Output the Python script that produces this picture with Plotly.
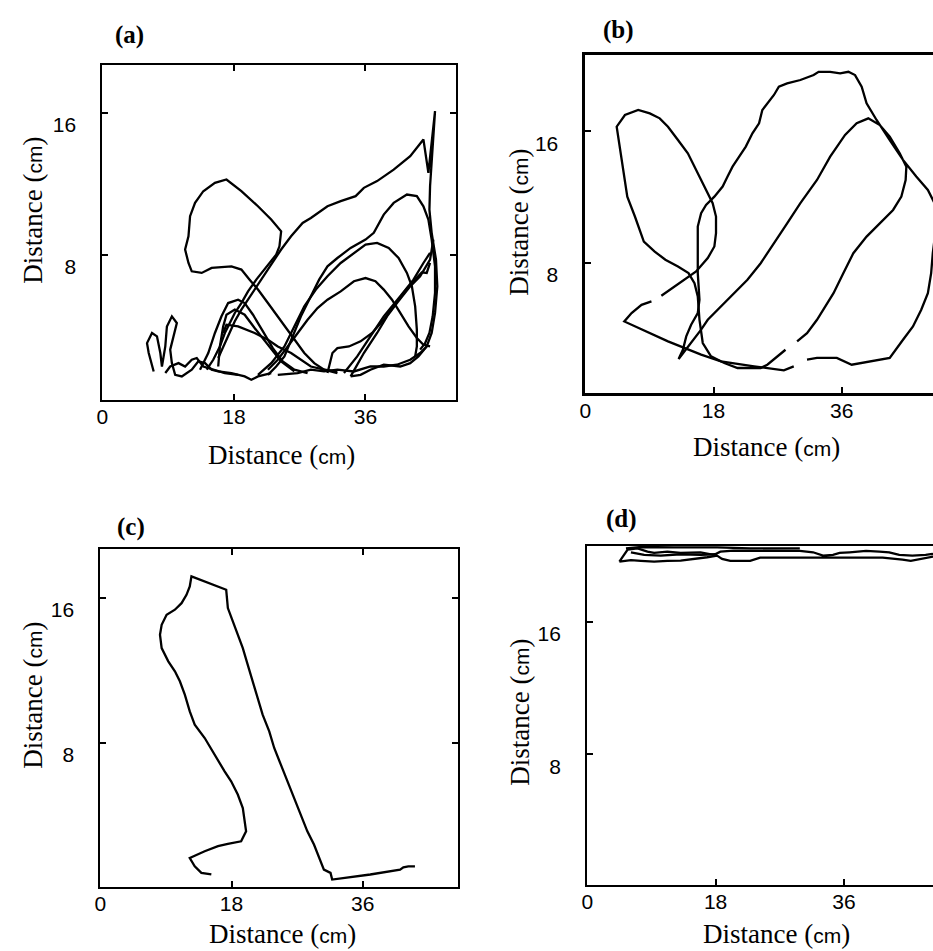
import plotly.graph_objects as go

# ---------------- data (cm) ----------------
x_tick_vals = [0, 18, 36]
x_tick_text = ["0", "18", "36"]
y_tick_vals = [8, 16]
y_tick_text = ["8", "16"]
panel_labels = ["(a)", "(b)", "(c)", "(d)"]
axis_label = "Distance"
unit_label = "cm"

# Panel (a): several overlapping excursions
a_head_x = [14.27, 15.17, 16.08, 16.76, 17.44, 18.12, 19.02, 19.93, 21.06, 22.19, 23.10, 23.78, 24.23, 24.46, 23.10, 21.29, 19.02, 16.98, 15.40, 13.81, 12.68, 12.00, 11.78, 11.32, 11.78, 12.23, 13.59, 14.95, 17.66, 19.02, 20.15, 21.29, 22.65, 24.00, 25.36, 26.72, 27.63, 28.99, 30.34, 32.16]
a_head_y = [1.51, 2.07, 2.82, 3.58, 4.14, 4.71, 5.27, 5.93, 6.59, 7.16, 7.63, 8.00, 8.47, 9.32, 9.98, 10.73, 11.58, 12.24, 12.05, 11.58, 10.92, 10.17, 9.04, 8.29, 7.53, 7.06, 6.97, 7.25, 7.34, 7.16, 6.59, 6.03, 5.27, 4.52, 3.77, 3.01, 2.45, 1.88, 1.51, 1.32]
a_big_x = [15.85, 16.76, 17.44, 18.12, 19.02, 19.93, 20.83, 21.97, 23.10, 24.46, 25.82, 27.40, 28.53, 30.80, 32.61, 34.65, 35.78, 37.59, 39.86, 42.12, 43.93, 44.61, 45.52, 45.20, 44.84, 44.75, 45.06, 45.65, 45.83, 45.52, 45.06, 44.38, 43.25, 42.12, 40.76, 38.50, 36.68, 35.33, 33.97]
a_big_y = [2.17, 3.01, 3.67, 4.24, 4.90, 5.46, 6.03, 6.78, 7.44, 8.29, 9.04, 9.79, 10.07, 10.73, 11.02, 11.30, 11.77, 12.15, 12.80, 13.56, 14.50, 12.62, 16.10, 13.93, 11.86, 10.54, 9.23, 7.72, 6.21, 4.71, 3.58, 2.82, 2.26, 1.88, 1.69, 1.79, 1.51, 1.22, 1.13]
a_arc2_x = [22.65, 23.78, 24.91, 25.82, 27.17, 28.53, 29.66, 30.80, 32.16, 33.97, 36.01, 37.14, 38.50, 39.86, 41.67, 43.03, 43.93, 44.61, 45.06, 45.52, 45.52, 45.20, 44.75, 44.16, 43.48]
a_arc2_y = [1.22, 1.69, 2.26, 3.20, 4.52, 5.65, 6.59, 7.34, 7.81, 8.38, 8.85, 9.23, 10.26, 10.92, 11.39, 11.30, 10.73, 9.98, 8.85, 7.34, 5.84, 4.52, 3.58, 3.01, 2.64]
a_arc3_x = [21.29, 23.10, 24.91, 26.27, 27.63, 29.21, 30.80, 32.61, 34.42, 36.01, 37.59, 39.18, 40.53, 41.67, 42.35, 42.80, 43.03, 43.03, 42.80]
a_arc3_y = [1.22, 1.88, 2.82, 3.95, 5.08, 6.03, 6.78, 7.53, 8.10, 8.57, 8.66, 8.38, 7.81, 6.97, 6.21, 5.08, 3.77, 2.82, 2.26]
a_arc4_x = [22.65, 24.00, 25.36, 26.72, 28.08, 29.44, 30.80, 32.61, 34.42, 36.01, 37.36, 38.50, 39.63, 40.76, 41.89, 43.03, 43.93, 44.84]
a_arc4_y = [1.51, 2.07, 2.82, 3.58, 4.33, 4.99, 5.46, 5.93, 6.50, 6.68, 6.50, 6.03, 5.46, 4.71, 3.95, 3.30, 2.92, 2.82]
a_bump5_x = [30.80, 31.48, 32.16, 33.74, 35.33, 36.91, 38.50, 39.86, 41.21, 42.57, 43.70, 44.38, 44.84]
a_bump5_y = [1.32, 2.45, 2.73, 2.82, 3.11, 3.58, 4.33, 5.08, 5.84, 6.50, 7.00, 6.97, 7.53]
a_diag6_x = [33.97, 35.78, 37.59, 38.95, 40.31, 42.12, 43.48, 44.84, 45.29]
a_diag6_y = [1.13, 2.45, 3.58, 4.52, 5.27, 6.21, 6.78, 7.72, 8.85]
a_diag7_x = [33.06, 34.87, 36.68, 38.50, 40.76, 42.57, 43.93, 44.84]
a_diag7_y = [1.32, 2.26, 3.39, 4.52, 5.65, 6.59, 7.53, 8.10]
a_bump1_x = [13.36, 14.49, 15.40, 16.30, 17.21, 18.57, 19.47, 20.61, 21.97, 23.32, 24.68, 26.27, 28.08]
a_bump1_y = [1.51, 2.45, 3.58, 4.52, 5.27, 5.46, 5.27, 4.61, 3.67, 2.73, 1.98, 1.51, 1.32]
a_bump2_x = [15.85, 16.08, 16.53, 16.98, 18.12, 19.47, 20.83, 22.65, 24.46, 26.27]
a_bump2_y = [1.69, 2.82, 3.95, 4.61, 4.90, 4.61, 3.86, 2.92, 1.98, 1.41]
a_line3_x = [16.53, 16.98, 18.57, 20.83, 22.65, 24.00, 25.82, 27.17, 28.53, 30.34, 32.16]
a_line3_y = [3.58, 4.05, 3.95, 3.58, 3.20, 2.82, 2.45, 2.07, 1.69, 1.51, 1.41]
a_left_x = [7.02, 6.34, 6.11, 6.79, 7.47, 7.93, 8.15, 8.61, 8.83, 9.51, 10.19, 9.74, 9.28, 9.51, 9.96, 10.87, 12.23, 13.13, 14.04, 14.95, 15.85, 17.66, 19.47, 20.38, 21.29, 23.10]
a_left_y = [1.41, 2.45, 3.01, 3.58, 3.39, 2.45, 1.69, 2.82, 3.95, 4.52, 4.14, 3.39, 2.64, 1.88, 1.22, 1.13, 1.51, 1.98, 1.88, 1.51, 1.41, 1.32, 1.13, 0.94, 1.13, 1.32]
a_left2_x = [8.61, 9.28, 10.42, 11.32, 12.23, 12.91, 13.81, 14.49, 16.76, 18.57]
a_left2_y = [1.32, 1.69, 1.88, 1.69, 2.07, 2.17, 1.69, 1.60, 1.32, 1.22]
a_base_x = [24.00, 26.72, 28.53, 30.34, 32.16, 34.42, 36.68, 38.50, 40.31, 42.12, 43.48, 44.38]
a_base_y = [1.22, 1.32, 1.51, 1.41, 1.51, 1.41, 1.69, 1.69, 1.79, 2.07, 2.45, 2.82]

# Panel (b): one long path with small gaps
b_x = [49.24, 48.77, 48.54, 48.08, 47.15, 45.99, 44.59, 42.73, 37.39, 35.30, 32.52, 31.12, None,
       29.26, 27.87, 23.69, 19.04, 16.26, 11.61, 5.48, 6.50, 7.90, 9.29, None,
       10.68, 12.54, 14.17, 15.56, 17.19, 18.12, 18.35, 18.35, 17.88, 16.95, 15.79, 14.40, 13.01, 11.61, 10.45, 9.06, 7.43, 5.57, 4.41, 5.11,
       5.90, 6.97, 8.22, 9.75, 11.24, 13.01, 14.49, 15.33, 15.79, 16.03, 16.49, 17.65, 19.51, 21.37, 24.62, 25.55, 26.94, 28.10, None,
       29.73, 31.12, 32.52, 33.91, 34.84, 36.23, 37.62, 39.48, 41.34, 43.20, 44.36, 44.96, 45.06, 44.13, 42.73, 41.34, 39.72, 38.09, 36.46, 34.37,
       32.52, 30.19, 28.33, 26.48, 24.62, 22.76, 20.90, 19.04, 17.19, 16.26, 15.33, 14.17, 13.10, 13.70, 14.17, 14.86, 15.79, 16.03, 15.79, 15.79,
       15.79, 16.26, 16.95, 18.12, 19.28, 19.97, 20.67, 21.60, 22.53, 23.46, 24.39, 24.85, 25.55, 26.48, 27.17, 28.33, 30.19, 32.05, 32.75, 34.37,
       35.77, 36.93, 37.86, 38.79, 39.48, 40.88, 42.73, 44.59, 46.45, 48.08, 49.24]
b_y = [10.22, 8.60, 7.39, 6.17, 5.16, 4.15, 3.34, 2.23, 1.82, 2.23, 2.23, 2.13, None,
       1.72, 1.48, 1.72, 2.02, 2.43, 3.24, 4.45, 4.96, 5.46, 5.67, None,
       6.01, 6.58, 7.08, 7.49, 8.30, 9.01, 9.82, 10.83, 11.64, 12.45, 13.46, 14.67, 15.48, 16.29, 16.80, 17.10, 17.31, 17.00, 16.29, 14.27,
       12.04, 10.83, 9.31, 8.70, 8.20, 7.79, 7.39, 6.78, 5.97, 4.55, 3.14, 2.33, 1.92, 1.62, 1.62, 1.82, 2.33, 2.73, None,
       3.24, 3.74, 4.55, 5.57, 6.17, 7.39, 8.60, 9.61, 10.42, 11.23, 12.04, 13.05, 13.86, 14.67, 15.69, 16.39, 16.80, 16.50, 15.79, 14.47,
       13.05, 11.64, 10.42, 9.21, 7.99, 6.98, 6.17, 5.36, 4.55, 3.95, 3.44, 2.83, 2.17, 2.73, 3.54, 4.25, 4.96, 5.77, 7.39, 8.80,
       10.22, 11.03, 11.54, 12.04, 12.65, 13.26, 13.86, 14.47, 15.08, 15.89, 16.50, 17.31, 17.71, 18.22, 18.72, 18.92, 19.13, 19.43, 19.63, 19.63,
       19.53, 19.63, 19.43, 18.72, 17.71, 16.70, 15.48, 14.27, 13.26, 12.45, 11.44]

# Panel (c)
c_x = [15.23, 13.86, 12.95, 12.27, 14.32, 16.14, 17.50, 18.41, 19.32, 20.00, 19.77, 19.55, 18.86, 17.95, 17.05, 15.68, 14.32, 12.95, 12.27, 11.59,
       10.91, 10.23, 9.32, 8.41, 8.18, 8.41, 9.09, 10.23, 11.14, 11.82, 12.27, 12.50, 17.27, 17.50, 18.18, 18.86, 19.55, 20.23, 20.91, 21.59,
       22.27, 23.18, 23.86, 24.77, 25.68, 26.59, 27.50, 28.41, 29.32, 30.00, 30.68, 31.59, 31.82, 37.05, 41.14, 41.59, 42.27, 43.18]
c_y = [0.74, 0.83, 1.19, 1.65, 2.02, 2.30, 2.43, 2.48, 2.57, 3.12, 3.68, 4.41, 5.15, 5.88, 6.43, 7.35, 8.27, 9.01, 9.74, 10.66,
       11.40, 11.95, 12.50, 13.23, 13.97, 14.52, 15.07, 15.35, 15.71, 16.17, 16.63, 17.19, 16.45, 15.44, 14.70, 13.97, 13.23, 12.31, 11.40, 10.48,
       9.56, 8.64, 7.72, 6.80, 5.88, 4.96, 4.04, 3.12, 2.39, 1.65, 1.01, 0.83, 0.46, 0.74, 1.01, 1.14, 1.19, 1.19]

# Panel (d): path hugging the top wall
d_outer_x = [4.51, 5.20, 5.67, 7.06, 8.45, 9.38, 11.24, 13.10, 15.89, 17.74, 18.67, 20.53, 25.18, 29.82, 31.68, 33.07, 34.47, 35.40, 36.79, 39.11,
             40.97, 42.36, 43.76, 45.61, 47.47, 48.40, 49.33, 48.40, 46.54, 45.38, 44.22, 41.43, 36.79, 32.14, 27.50, 24.25, 22.85, 20.07, 18.91, 18.21,
             16.82, 14.96, 13.10, 11.24, 9.38, 7.52, 6.13, 4.51]
d_outer_y = [19.66, 20.12, 20.38, 20.46, 20.26, 20.18, 20.26, 20.18, 20.22, 20.06, 20.26, 20.32, 20.32, 20.30, 20.22, 20.02, 20.06, 20.18, 20.22, 20.30,
             20.26, 20.22, 20.06, 20.02, 20.06, 20.12, 20.02, 19.94, 19.82, 19.70, 19.78, 19.90, 19.90, 19.90, 19.90, 19.90, 19.70, 19.70, 19.82, 20.02,
             19.92, 19.82, 19.72, 19.70, 19.66, 19.70, 19.74, 19.66]
d_mid_x = [6.13, 7.99, 10.31, 13.10, 15.89, 17.98]
d_mid_y = [20.22, 20.06, 20.02, 20.10, 20.06, 20.10]
d_top_x = [5.43, 7.52, 12.17, 15.89, 18.21, 22.85, 29.82]
d_top_y = [20.46, 20.54, 20.52, 20.54, 20.52, 20.46, 20.46]

# ---------------- figure ----------------
W, H = 933, 951
fig = go.Figure()

panel_series = {
    1: [(a_head_x, a_head_y), (a_big_x, a_big_y), (a_arc2_x, a_arc2_y), (a_arc3_x, a_arc3_y),
        (a_arc4_x, a_arc4_y), (a_bump5_x, a_bump5_y), (a_diag6_x, a_diag6_y), (a_diag7_x, a_diag7_y),
        (a_bump1_x, a_bump1_y), (a_bump2_x, a_bump2_y), (a_line3_x, a_line3_y), (a_left_x, a_left_y),
        (a_left2_x, a_left2_y), (a_base_x, a_base_y)],
    2: [(b_x, b_y)],
    3: [(c_x, c_y)],
    4: [(d_outer_x, d_outer_y), (d_mid_x, d_mid_y), (d_top_x, d_top_y)],
}
for k, series in panel_series.items():
    sfx = "" if k == 1 else str(k)
    for xs, ys in series:
        fig.add_trace(go.Scatter(x=xs, y=ys, mode="lines", xaxis="x" + sfx, yaxis="y" + sfx,
                                 line=dict(color="black", width=2.3), connectgaps=False,
                                 showlegend=False, hoverinfo="skip"))

# plot boxes in pixels: left, right, top, bottom
boxes = {
    1: (97, 453, 65, 400),
    2: (583, 933, 55, 393),
    3: (95, 455, 549, 887),
    4: (585, 933, 546, 885),
}
xranges = {1: [0, 48.4], 2: [0, 48.8], 3: [0, 49.1], 4: [0, 48.5]}
yranges = {1: [-0.2, 18.7], 2: [0.1, 20.65], 3: [0.05, 18.7], 4: [0.1, 20.6]}
lw = {1: 2, 2: 2.6, 3: 2, 4: 2.4}
tick_font = dict(family="Liberation Sans, Arial, sans-serif", size=21, color="black")

layout = {}
for k, (l, r, t, b) in boxes.items():
    sfx = "" if k == 1 else str(k)
    full = k in (2, 4)
    layout["xaxis" + sfx] = dict(
        domain=[l / W, r / W], range=xranges[k], anchor="y" + sfx,
        tickmode="array", tickvals=x_tick_vals, ticktext=x_tick_text,
        ticks="inside", ticklen=6, tickwidth=1.5, tickcolor="black",
        showline=True, linecolor="black", linewidth=lw[k],
        mirror=True if full else "ticks", showgrid=False, zeroline=False,
        tickfont=tick_font, ticklabelstandoff=-3, fixedrange=True)
    layout["yaxis" + sfx] = dict(
        domain=[1 - b / H, 1 - t / H], range=yranges[k], anchor="x" + sfx,
        tickmode="array", tickvals=y_tick_vals, ticktext=y_tick_text,
        ticks="inside", ticklen=6, tickwidth=1.5, tickcolor="black",
        showline=True, linecolor="black", linewidth=lw[k],
        mirror=False if full else "ticks", showgrid=False, zeroline=False,
        tickfont=tick_font, ticklabelstandoff=20, ticklabelshift=12, fixedrange=True)

title_text = (axis_label + " (<span style='font-family:Liberation Sans, Arial, sans-serif;font-size:21px'>"
              + unit_label + "</span>)")
serif = "Liberation Serif, Times New Roman, serif"

annotations = []
def ann(text, px, py, size, angle=0):
    annotations.append(dict(text=text, x=px / W, y=1 - py / H, xref="paper", yref="paper",
                            xanchor="center", yanchor="middle", showarrow=False, textangle=angle,
                            font=dict(family=serif, size=size, color="black")))

label_pos = [(124, 35), (616, 30), (126, 527), (619, 519)]
for lab, (px, py) in zip(panel_labels, label_pos):
    ann("<b>" + lab + "</b>", px, py, 25)

xtitle_pos = [(277, 455), (765, 447), (278, 934), (775, 934)]
ytitle_pos = [(27, 210), (516, 222), (27, 695), (517, 712)]
for (px, py) in xtitle_pos:
    ann(title_text, px, py, 27)
for (px, py) in ytitle_pos:
    ann(title_text, px, py, 27, angle=-90)

fig.update_layout(width=W, height=H, margin=dict(l=0, r=0, t=0, b=0),
                  paper_bgcolor="white", plot_bgcolor="white",
                  annotations=annotations, **layout)

fig.write_html("out.html")
